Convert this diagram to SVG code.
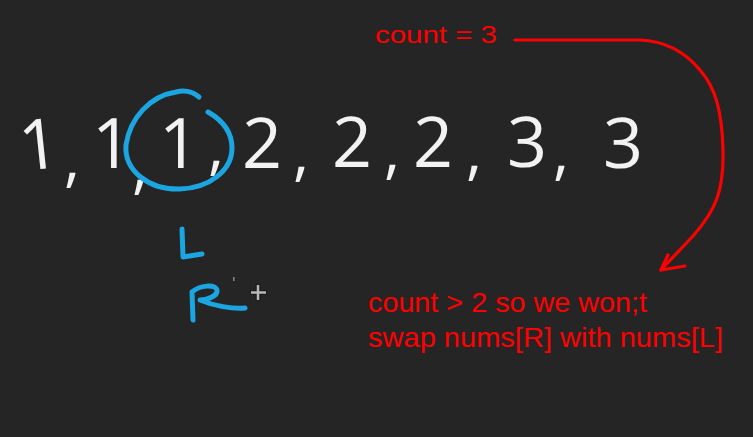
<svg xmlns="http://www.w3.org/2000/svg" width="753" height="437" viewBox="0 0 753 437">
<style>
.hw{font-family:"Open Sans","DejaVu Sans",sans-serif;font-weight:400;font-size:70px;fill:#f2f2f2;text-anchor:middle}
.cm{font-family:"Open Sans","DejaVu Sans",sans-serif;font-weight:400;font-size:62px;fill:#f2f2f2;text-anchor:middle}
.red{font-family:"Liberation Sans",Arial,sans-serif;fill:#ff0000}
.blue{fill:none;stroke:#1ba6e2;stroke-width:5;stroke-linecap:round;stroke-linejoin:round}
.rl{fill:none;stroke:#ff0000;stroke-width:3.2;stroke-linecap:round;stroke-linejoin:round}
</style>
<rect width="753" height="437" fill="#252525"/>
<g id="numbers">
<text class="hw" x="39" y="169" transform="rotate(-6 39 145)">1</text>
<text class="cm" x="72" y="180">,</text>
<text class="hw" x="112" y="168">1</text>
<text class="cm" x="140" y="187">,</text>
<text class="hw" x="179" y="168">1</text>
<text class="cm" x="216" y="168">,</text>
<text class="hw" x="262" y="168">2</text>
<text class="cm" x="301" y="174">,</text>
<text class="hw" x="352" y="167">2</text>
<text class="cm" x="392" y="172">,</text>
<text class="hw" x="433" y="167">2</text>
<text class="cm" x="474" y="173">,</text>
<text class="hw" x="527" y="167">3</text>
<text class="cm" x="561" y="173">,</text>
<text class="hw" x="623" y="168">3</text>
</g>
<g id="circle">
<path class="blue" d="M199 97 C192 91 184 90 176 92 C150 96 130 118 126 145 C124 170 148 190 180 189 C210 188 232 170 232 148 C232 132 222 120 208 112"/>
</g>
<g id="L">
<path class="blue" d="M182 229 L183 257 L202 254"/>
</g>
<g id="R">
<path class="blue" d="M193 320 L192 292 C200 285 215 284 217 290 C218 297 205 300 200 300 C214 306 232 309 245 308"/>
</g>
<g id="cursor">
<path d="M258 284 V301 M250 292.5 H267" stroke="#1a1a1a" stroke-width="5"/>
<path d="M258 285 V300 M251 292.5 H266" stroke="#b8b8b8" stroke-width="2.5"/>
<rect x="233" y="277" width="1.5" height="4" fill="#888"/>
</g>
<g id="count3">
<text class="red" x="375" y="43" font-size="24" textLength="122" lengthAdjust="spacingAndGlyphs">count = 3</text>
</g>
<g id="connectors">
<path class="rl" d="M515 40 L640 40 C665 41 685 52 700 70 C715 87 722 110 723 150 C724 190 716 210 693 236 C680 250 670 260 661 270"/>
<path class="rl" d="M668 255 L661 270 L685 266"/>
</g>
<g id="note">
<text class="red" x="368" y="312" font-size="28" textLength="279" lengthAdjust="spacingAndGlyphs">count &gt; 2 so we won;t</text>
<text class="red" x="368" y="347" font-size="28" textLength="355" lengthAdjust="spacingAndGlyphs">swap nums[R] with nums[L]</text>
</g>
</svg>
